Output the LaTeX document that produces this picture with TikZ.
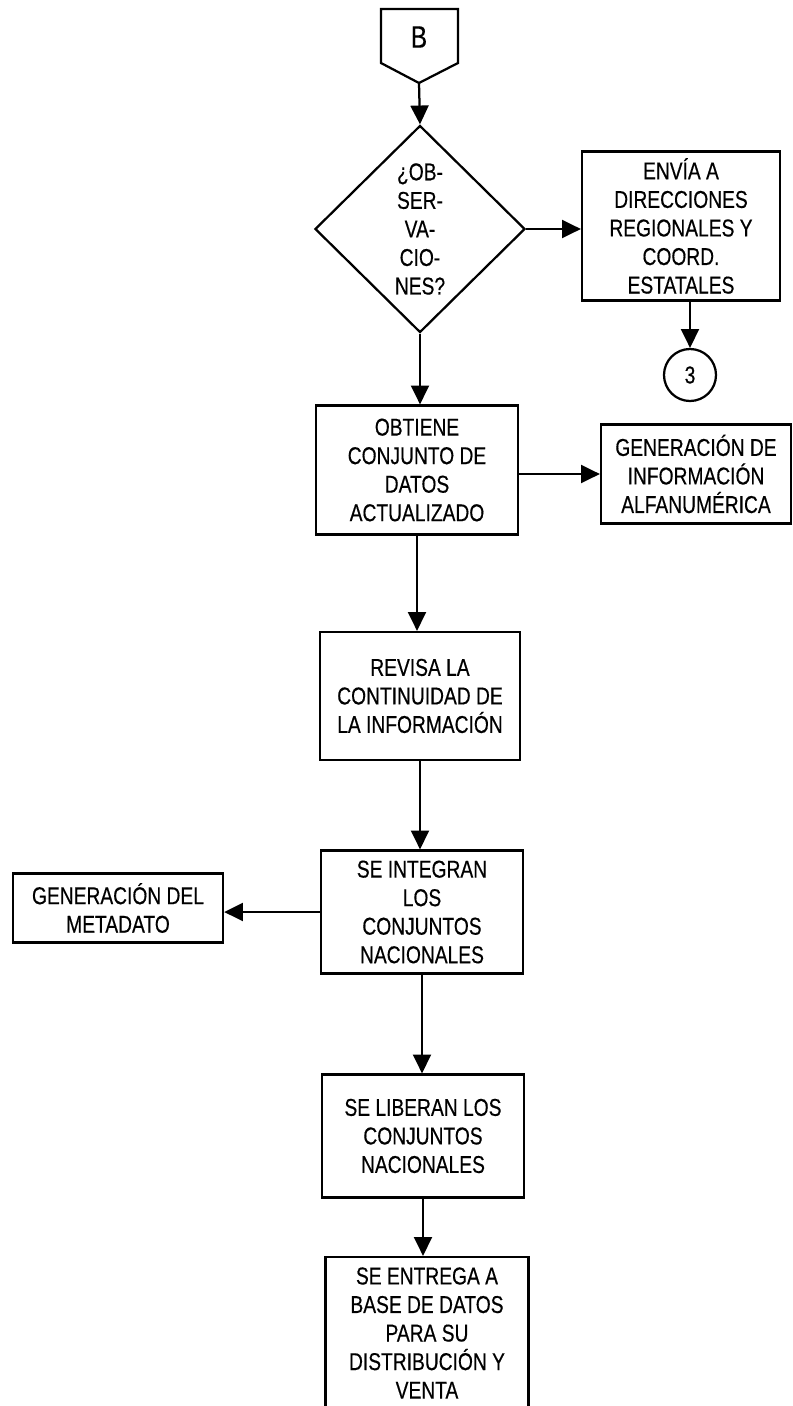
\documentclass[tikz,border=0pt]{standalone}
\usepackage{fontspec}
\setmainfont{Liberation Sans}[FakeStretch=0.79, FakeBold=0.4]
\usetikzlibrary{shapes.geometric, arrows.meta}

\begin{document}
\begin{tikzpicture}[x=0.025cm, y=-0.025cm, line width=1.6pt,
                    font=\fontsize{17.3}{20.3}\selectfont]
        % Setup the style for the boxes and arrows
        \tikzset{box style/.style={draw, rectangle, align=center, inner sep=0pt},
                 arrow style/.style={-{Triangle[width=0.45cm, length=0.47cm]}}}

        \useasboundingbox (0,0) rectangle (793,1406);
        \clip (0,0) rectangle (793,1406);

        % Draw the off-page connector
        \draw (381,9) -- (458,9) -- (458,63) -- (419,83) -- (381,63) -- cycle;
        \node[font=\fontsize{22}{25}\selectfont] at (419,37) (conB) {B};
        \coordinate (conBtip) at (419,83);

        % Draw the boxes
        \node[box style, diamond, minimum width=5.25cm, minimum height=5.175cm] at (420,229) (obs) {¿OB-\\SER-\\VA-\\CIO-\\NES?};
        \node[box style, minimum width=4.95cm, minimum height=3.725cm] at (681,226) (envia) {ENVÍA A\\DIRECCIONES\\REGIONALES Y\\COORD.\\ESTATALES};
        \node[box style, circle, minimum size=1.3cm] at (690,375) (tres) {3};
        \node[box style, minimum width=5.05cm, minimum height=3.225cm] at (417,470) (obtiene) {OBTIENE\\CONJUNTO DE\\DATOS\\ACTUALIZADO};
        \node[box style, minimum width=4.75cm, minimum height=2.475cm] at (696,474) (genalfa) {GENERACIÓN DE\\INFORMACIÓN\\ALFANUMÉRICA};
        \node[box style, minimum width=5cm, minimum height=3.2cm] at (420,696) (revisa) {REVISA LA\\CONTINUIDAD DE\\LA INFORMACIÓN};
        \node[box style, minimum width=5.05cm, minimum height=3.075cm] at (422,912) (integran) {SE INTEGRAN\\LOS\\CONJUNTOS\\NACIONALES};
        \node[box style, minimum width=5.25cm, minimum height=1.725cm] at (118,908) (metadato) {GENERACIÓN DEL\\METADATO};
        \node[box style, minimum width=5.05cm, minimum height=3.075cm] at (423,1136) (liberan) {SE LIBERAN LOS\\CONJUNTOS\\NACIONALES};
        \node[box style, minimum width=5.075cm, minimum height=3.8cm] at (427,1333) (entrega) {SE ENTREGA A\\BASE DE DATOS\\PARA SU\\DISTRIBUCIÓN Y\\VENTA};

        % Connect the boxes with arrows
        \draw
            (conBtip)       edge[arrow style] (obs.north)
            (obs.east)      edge[arrow style] (obs.east -| envia.west)
            (tres.north |- envia.south) edge[arrow style] (tres.north)
            (obs.south)     edge[arrow style] (obs.south |- obtiene.north)
            (obtiene.east |- genalfa.west) edge[arrow style] (genalfa.west)
            (obtiene.south) edge[arrow style] (obtiene.south |- revisa.north)
            (revisa.south)  edge[arrow style] (revisa.south |- integran.north)
            (integran.west) edge[arrow style] (integran.west -| metadato.east)
            (integran.south) edge[arrow style] (integran.south |- liberan.north)
            (liberan.south) edge[arrow style] (liberan.south |- entrega.north);
\end{tikzpicture}
\end{document}
